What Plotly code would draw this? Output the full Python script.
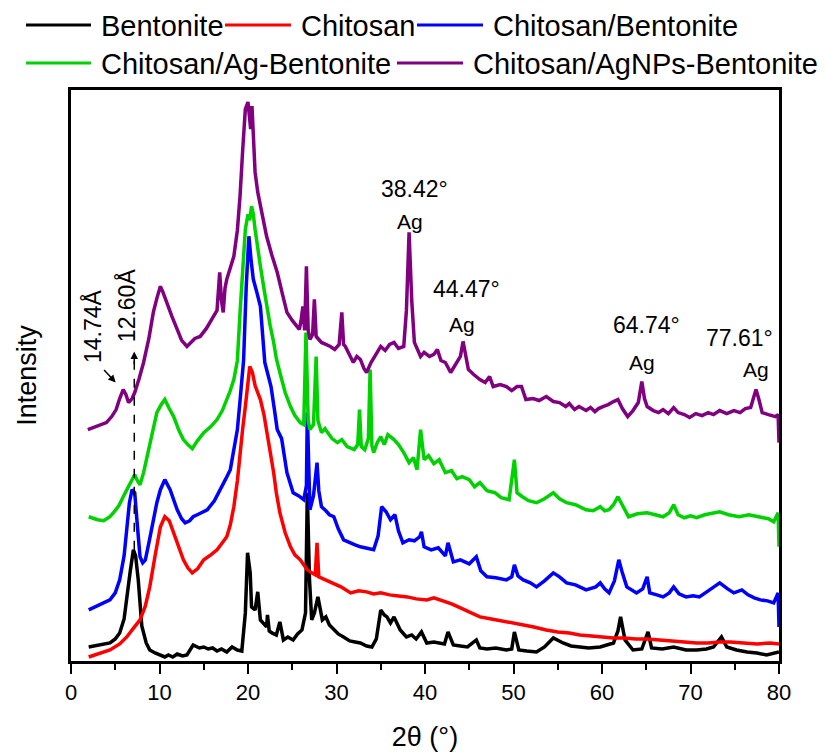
import plotly.graph_objects as go

# ---------------- data (2θ in degrees, intensity in arbitrary units) ----------------
BENTONITE = [(2.0,14),(3.0,16),(4.4,18),(5.0,22),(5.5,28),(6.0,42),(6.3,64),(6.7,90),(7.05,111),(7.3,105),(7.6,81),(8.0,35),(8.5,18),(8.9,11),(9.5,8),(10.1,6),(10.6,4),(11.0,6),(11.5,4),(12.0,7),(12.6,5),(13.1,6),(13.8,16),(14.5,13),(15.0,14),(15.5,12),(16.0,13),(16.5,10),(17.0,12),(17.6,9),(18.2,14),(18.8,11),(19.3,10),(19.7,48),(19.95,108),(20.25,88),(20.4,54),(20.8,51),(21.1,69),(21.4,41),(21.8,37),(22.1,34),(22.2,46),(22.4,30),(22.7,28),(23.2,26),(23.6,39),(24.0,21),(24.5,24),(25.1,21),(25.6,27),(26.1,31),(26.5,48),(26.7,168),(26.95,81),(27.2,41),(27.5,48),(27.9,64),(28.4,41),(28.8,44),(29.2,36),(29.7,31),(30.2,27),(30.8,24),(31.5,20),(32.1,19),(32.7,18),(33.4,15),(34.0,14),(34.5,22),(35.0,51),(35.4,46),(35.7,44),(36.1,38),(36.5,44),(37.2,31),(37.9,24),(38.5,26),(39.0,22),(39.6,29),(40.2,18),(41.0,19),(41.7,18),(42.2,17),(42.6,29),(43.2,16),(44.0,15),(44.8,14),(45.8,21),(46.2,13),(47.0,12),(48.0,13),(49.2,11),(49.8,12),(50.1,29),(50.6,11),(51.5,10),(52.6,9),(53.5,14),(54.5,23),(55.6,18),(56.5,15),(57.5,14),(58.5,13),(59.8,14),(61.3,18),(61.8,30),(62.1,44),(62.6,21),(63.5,11),(64.5,12),(65.2,29),(65.6,13),(66.8,12),(68.1,14),(69.5,11),(70.7,11),(71.8,12),(72.6,14),(73.5,24),(74.1,14),(75.2,11),(76.4,9),(77.5,8),(78.6,6),(79.7,9),(80.0,9)]

CHITOSAN = [(2.0,4),(3.0,7),(4.4,11),(5.5,17),(6.3,24),(7.0,32),(7.8,41),(8.4,55),(8.9,74),(9.5,105),(10.1,134),(10.6,144),(11.1,140),(11.6,128),(12.2,112),(12.7,101),(13.2,93),(13.7,88),(14.3,92),(15.0,101),(15.8,106),(16.5,111),(17.1,118),(17.6,124),(18.0,136),(18.4,154),(18.8,180),(19.1,208),(19.4,232),(19.7,254),(20.0,280),(20.2,294),(20.5,288),(20.8,275),(21.1,268),(21.4,261),(21.8,246),(22.1,231),(22.5,208),(22.9,188),(23.2,168),(23.6,148),(24.2,128),(24.8,114),(25.3,106),(25.9,101),(26.3,96),(26.7,91),(27.2,88),(27.6,86),(27.8,118),(28.0,84),(28.5,82),(29.0,80),(29.7,78),(30.5,74),(31.6,68),(32.5,70),(33.4,69),(34.2,67),(35.0,68),(36.0,66),(37.0,65),(38.0,64),(39.0,62),(40.2,61),(41.0,63),(42.0,60),(43.0,57),(44.0,53),(45.0,49),(46.2,44),(47.5,42),(48.8,40),(49.9,38),(51.0,36),(52.3,34),(53.7,31),(55.0,29),(56.3,28),(57.5,26),(58.8,25),(60.0,24),(61.3,23),(62.5,23),(63.8,22),(65.1,22),(66.5,21),(68.0,20),(69.3,19),(70.7,18),(72.0,18),(73.3,19),(74.5,19),(76.0,18),(77.5,17),(79.0,18),(80.0,17)]

CHITOSAN_BENTONITE = [(2.0,51),(3.0,55),(4.4,61),(5.0,68),(5.5,81),(6.0,105),(6.3,131),(6.6,158),(6.9,171),(7.2,168),(7.5,135),(7.8,104),(8.1,98),(8.4,101),(8.8,118),(9.3,141),(9.7,158),(10.1,171),(10.6,181),(11.2,171),(11.6,160),(12.0,151),(12.5,142),(12.9,138),(13.4,140),(13.8,144),(14.5,147),(15.4,151),(16.2,160),(16.9,171),(17.5,182),(18.0,191),(18.4,210),(18.8,231),(19.1,260),(19.5,300),(19.8,374),(20.1,424),(20.35,400),(20.6,381),(21.0,368),(21.4,354),(21.9,298),(22.3,285),(22.6,274),(23.0,250),(23.3,231),(23.8,222),(24.4,188),(25.1,168),(25.7,165),(26.3,161),(26.6,175),(26.7,248),(26.85,190),(27.0,151),(27.4,165),(27.8,198),(28.0,170),(28.3,154),(28.8,150),(29.2,146),(29.7,144),(30.2,132),(30.8,121),(31.5,118),(32.1,116),(32.7,114),(33.4,113),(34.2,111),(34.7,125),(35.1,154),(35.6,149),(36.1,141),(36.6,146),(37.0,130),(37.5,118),(38.2,121),(38.8,120),(39.4,124),(39.6,129),(39.9,114),(40.7,111),(41.5,113),(42.3,105),(42.6,118),(43.2,99),(44.0,101),(45.0,97),(45.8,104),(46.3,90),(47.0,84),(48.0,83),(49.2,81),(49.8,84),(50.1,96),(50.5,85),(51.1,81),(51.9,78),(52.6,74),(53.5,80),(54.5,88),(55.2,84),(56.0,78),(57.0,76),(58.2,71),(59.3,74),(59.8,78),(60.3,72),(60.8,68),(61.4,80),(61.9,101),(62.3,88),(62.8,74),(63.9,68),(64.6,72),(65.1,84),(65.4,68),(66.2,66),(66.9,64),(67.6,68),(68.1,74),(68.7,67),(69.5,64),(70.3,65),(71.0,64),(72.0,70),(73.3,78),(74.2,72),(74.9,68),(75.8,71),(76.5,66),(77.2,63),(77.9,61),(78.7,60),(79.4,58),(79.9,68),(80.0,34)]

CHITOSAN_AG_BENTONITE = [(2.0,144),(3.0,141),(3.7,140),(4.4,144),(4.8,148),(5.4,155),(5.9,164),(6.5,174),(7.0,182),(7.2,186),(7.5,180),(7.8,176),(8.2,188),(8.6,204),(9.1,226),(9.7,248),(10.2,256),(10.6,261),(11.1,252),(11.6,244),(12.2,230),(12.7,221),(13.2,216),(13.7,212),(14.3,220),(15.0,228),(15.8,234),(16.5,241),(17.1,250),(17.6,261),(18.0,270),(18.4,281),(18.8,300),(19.1,348),(19.4,395),(19.7,431),(20.0,446),(20.2,440),(20.4,454),(20.6,446),(20.8,431),(21.1,410),(21.4,394),(21.8,372),(22.1,354),(22.5,335),(22.9,318),(23.2,302),(23.6,288),(24.2,268),(24.8,254),(25.3,245),(25.9,238),(26.3,236),(26.55,328),(26.8,240),(27.0,231),(27.4,236),(27.7,304),(27.9,240),(28.3,228),(28.7,232),(29.0,228),(29.5,222),(30.1,218),(30.6,221),(31.2,214),(32.0,211),(32.4,216),(32.6,251),(32.8,214),(33.2,211),(33.6,222),(33.8,291),(34.0,215),(34.2,208),(34.6,218),(35.0,224),(35.4,216),(35.8,226),(36.5,221),(37.0,216),(37.6,208),(38.2,198),(38.7,203),(39.1,191),(39.5,231),(39.9,201),(40.4,205),(41.0,197),(41.6,201),(42.3,188),(43.0,190),(43.6,182),(44.2,184),(45.0,181),(45.6,174),(46.2,178),(47.0,170),(47.9,168),(48.6,163),(49.5,161),(50.1,201),(50.4,168),(51.0,164),(51.7,160),(52.6,158),(53.5,162),(54.5,168),(55.2,162),(56.0,158),(57.0,156),(58.2,151),(59.0,150),(59.8,154),(60.3,150),(60.8,151),(61.3,156),(61.8,164),(62.4,153),(63.0,144),(64.0,147),(65.1,148),(66.0,146),(66.9,144),(67.6,148),(68.1,156),(68.6,146),(69.3,143),(70.0,145),(70.7,143),(71.6,146),(72.5,148),(73.3,149),(74.3,146),(75.5,144),(76.6,146),(77.9,144),(78.8,142),(79.4,139),(79.9,148),(80.0,114)]

CHITOSAN_AGNPS_BENTONITE = [(1.9,231),(2.5,233),(3.2,236),(4.0,238),(4.6,244),(5.1,251),(5.5,262),(5.9,271),(6.2,266),(6.5,258),(6.9,262),(7.2,268),(7.7,282),(8.2,298),(8.8,322),(9.3,348),(9.7,362),(10.1,374),(10.4,368),(10.8,358),(11.4,344),(12.0,331),(12.5,320),(13.1,314),(13.6,318),(14.0,322),(14.6,324),(15.3,332),(16.1,344),(16.5,350),(16.8,388),(17.0,360),(17.2,348),(17.4,372),(17.6,381),(18.0,392),(18.4,404),(18.8,430),(19.1,464),(19.4,510),(19.7,551),(20.0,558),(20.3,531),(20.45,554),(20.8,488),(21.1,468),(21.4,454),(21.8,438),(22.1,424),(22.7,405),(23.3,388),(23.9,366),(24.4,348),(25.0,340),(25.5,334),(25.8,331),(26.0,340),(26.2,354),(26.4,330),(26.6,394),(26.8,330),(27.0,321),(27.3,326),(27.5,361),(27.7,324),(28.3,318),(28.8,316),(29.3,314),(29.8,311),(30.3,316),(30.6,348),(30.8,316),(31.0,314),(31.5,306),(31.9,298),(32.3,304),(32.7,301),(33.1,292),(33.4,288),(33.9,298),(34.4,306),(35.0,314),(35.5,310),(36.0,316),(36.5,318),(37.0,312),(37.6,314),(37.9,350),(38.2,428),(38.5,360),(38.8,318),(39.2,310),(39.5,304),(39.9,308),(40.5,304),(41.0,306),(41.4,311),(41.8,300),(42.3,298),(42.9,288),(43.5,296),(44.0,304),(44.3,319),(44.6,306),(44.9,291),(45.5,286),(46.2,281),(46.8,278),(47.3,284),(47.7,274),(48.5,276),(49.2,274),(49.8,270),(50.4,274),(50.9,274),(51.4,261),(52.2,262),(52.9,260),(53.7,264),(54.5,259),(55.2,258),(55.9,254),(56.3,257),(56.9,251),(57.4,254),(58.2,250),(58.7,253),(59.2,249),(59.6,252),(60.1,254),(60.7,256),(61.3,259),(61.8,261),(62.3,252),(62.9,244),(63.5,250),(64.1,258),(64.5,279),(64.8,262),(65.1,254),(65.8,250),(66.4,248),(66.9,251),(67.5,247),(68.1,253),(68.6,248),(69.3,246),(69.9,243),(70.6,247),(71.3,245),(72.0,248),(72.6,246),(73.3,250),(74.1,247),(74.9,250),(75.6,248),(76.2,252),(76.8,253),(77.1,262),(77.4,271),(77.7,262),(78.1,248),(78.8,246),(79.6,244),(79.9,246),(80.0,218)]

SERIES_NAMES = ["Bentonite", "Chitosan", "Chitosan/Bentonite",
                "Chitosan/Ag-Bentonite", "Chitosan/AgNPs-Bentonite"]
SERIES_DATA = [BENTONITE, CHITOSAN, CHITOSAN_BENTONITE,
               CHITOSAN_AG_BENTONITE, CHITOSAN_AGNPS_BENTONITE]
SERIES_COLORS = ["#000000", "#ff0000", "#0000ff", "#00d200", "#800080"]

# Ag peak labels: (label, label x, label y, "Ag" x, "Ag" y)
AG_PEAKS = [("38.42°", 38.85, 471, 38.3, 439),
            ("44.47°", 44.7, 371, 44.2, 336),
            ("64.74°", 65.0, 335, 64.5, 298),
            ("77.61°", 75.5, 322, 77.4, 291)]

FONT = "Arial, Liberation Sans, sans-serif"

# page geometry (pixels)
W, H = 825, 752
ML, MR, MT, MB = 71, 46, 90, 91
PW, PH = W - ML - MR, H - MT - MB

def px_to_paper_x(px):
    return (px - ML) / PW

def px_to_paper_y(py):
    return (H - MB - py) / PH

# manual legend layout: (line start px, line end px, text start px, row centre px)
LEGEND_SLOTS = [(26, 91, 99, 25), (225, 291, 299, 25), (417, 483, 491, 25),
                (26, 91, 99, 63), (397, 463, 471, 63)]

fig = go.Figure()
for name, data, color in zip(SERIES_NAMES, SERIES_DATA, SERIES_COLORS):
    fig.add_trace(go.Scatter(
        x=[p[0] for p in data], y=[p[1] for p in data],
        mode="lines", name=name, showlegend=False,
        line=dict(color=color, width=3.5),
    ))

annotations = []
shapes = []
for name, color, (l0, l1, tx, ry) in zip(SERIES_NAMES, SERIES_COLORS, LEGEND_SLOTS):
    shapes.append(dict(type="line", xref="paper", yref="paper",
                       x0=px_to_paper_x(l0), x1=px_to_paper_x(l1),
                       y0=px_to_paper_y(ry), y1=px_to_paper_y(ry),
                       line=dict(color=color, width=3)))
    annotations.append(dict(xref="paper", yref="paper", x=px_to_paper_x(tx),
                            y=px_to_paper_y(ry + 1), xanchor="left", yanchor="middle",
                            text=name, showarrow=False,
                            font=dict(size=29, color="black", family=FONT)))

for lab, lx, ly, ax_, ay_ in AG_PEAKS:
    annotations.append(dict(x=lx, y=ly, text=lab, showarrow=False,
                            font=dict(size=23, color="black", family=FONT)))
    annotations.append(dict(x=ax_, y=ay_, text="Ag", showarrow=False,
                            font=dict(size=21, color="black", family=FONT)))

# d-spacing labels (rotated)
annotations.append(dict(x=2.45, y=334, text="14.74Å", textangle=-90, showarrow=False,
                        font=dict(size=23, color="black", family=FONT)))
annotations.append(dict(x=6.3, y=355, text="12.60Å", textangle=-90, showarrow=False,
                        font=dict(size=23, color="black", family=FONT)))
# arrow to the 14.74 Å bump
annotations.append(dict(x=5.05, y=278, ax=-13, ay=-14, text="", showarrow=True,
                        arrowhead=2, arrowsize=1, arrowwidth=1.5, arrowcolor="black"))
# arrow head on the dashed line (12.60 Å)
annotations.append(dict(x=7.15, y=309, ax=0, ay=14, text="", showarrow=True,
                        arrowhead=2, arrowsize=1, arrowwidth=1.5, arrowcolor="black"))

shapes.append(dict(type="line", x0=7.15, x1=7.15, y0=111, y1=300,
                   line=dict(color="black", width=1.5, dash="dash")))

fig.update_layout(
    width=W, height=H,
    margin=dict(l=ML, r=MR, t=MT, b=MB),
    plot_bgcolor="white", paper_bgcolor="white",
    font=dict(family=FONT, color="black"),
    annotations=annotations, shapes=shapes,
    showlegend=False,
    xaxis=dict(range=[0, 80], tick0=0, dtick=10, ticks="outside", ticklen=10,
               tickwidth=2, tickcolor="black", showline=True, linewidth=2.5,
               linecolor="black", mirror=True, showgrid=False, zeroline=False,
               automargin=False,
               tickfont=dict(size=22, family=FONT, color="black"),
               minor=dict(dtick=5, ticks="outside", ticklen=6, tickwidth=2,
                          tickcolor="black", showgrid=False),
               title=dict(text="2θ (°)", font=dict(size=27, family=FONT, color="black"),
                          standoff=26)),
    yaxis=dict(range=[0, 570], showticklabels=False, ticks="", showline=True,
               linewidth=2.5, linecolor="black", mirror=True, showgrid=False,
               zeroline=False, automargin=False,
               title=dict(text="Intensity", font=dict(size=27, family=FONT, color="black"),
                          standoff=24)),
)

fig.write_html("out.html")
